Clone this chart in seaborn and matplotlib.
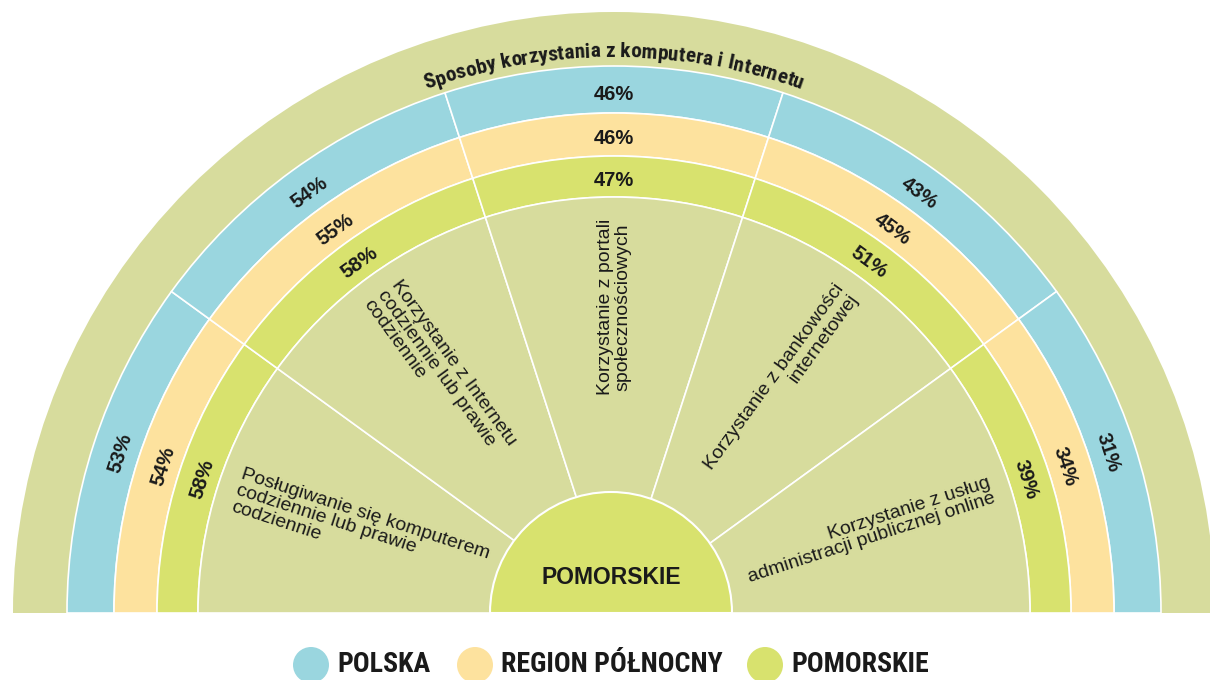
import numpy as np
import matplotlib
matplotlib.use("Agg")
import matplotlib.pyplot as plt
from matplotlib.patches import Wedge, Circle
from matplotlib import font_manager
import seaborn as sns

# Data
categories = [
    "Posługiwanie się komputerem\ncodziennie lub prawie\ncodziennie",
    "Korzystanie z Internetu\ncodziennie lub prawie\ncodziennie",
    "Korzystanie z portali\nspołecznościowych",
    "Korzystanie z bankowości\ninternetowej",
    "Korzystanie z usług\nadministracji publicznej online",
]
series_names = ["POLSKA", "REGION PÓŁNOCNY", "POMORSKIE"]
polska = [53, 54, 46, 43, 31]
region = [54, 55, 46, 45, 34]
pomorskie = [58, 58, 47, 51, 39]
title = "Sposoby korzystania z komputera i Internetu"
center_label = "POMORSKIE"

sns.set_theme(style="white")
palette = sns.color_palette(["#9AD6DF", "#FDE29E", "#D8E26E"])
olive = "#D7DC9D"
ink = "#1a1a1a"
plt.rcParams["font.family"] = ["Liberation Sans", "DejaVu Sans"]


def find_narrow_bold():
    # look for a condensed bold face (Arial Narrow look-alike)
    prefs = ["LiberationSansNarrow", "RobotoCondensed", "Roboto", "OpenSans",
             "NotoSans", "DejaVuSansCondensed", "DejaVu"]
    hits = []
    for f in font_manager.fontManager.ttflist:
        fn = f.fname.replace("-", "").replace("_", "").replace(" ", "")
        is_narrow = ("Narrow" in fn or "Condensed" in fn or "Condensed" in f.name
                     or "Narrow" in f.name or f.stretch in ("condensed", "semi-condensed",
                                                            "extra-condensed"))
        w = f.weight if isinstance(f.weight, int) else 700 if "bold" in str(f.weight) else 400
        if is_narrow and 600 <= w <= 800 and "Italic" not in fn and f.style == "normal":
            rank = next((k for k, p in enumerate(prefs) if p in fn), len(prefs))
            hits.append((rank, f.fname))
    if hits:
        hits.sort()
        return font_manager.FontProperties(fname=hits[0][1]), True
    return font_manager.FontProperties(family="Liberation Sans", weight="bold"), False


narrow_fp, have_narrow = find_narrow_bold()

fig = plt.figure(figsize=(12.1, 6.8), dpi=100)
ax = fig.add_axes([0, 0, 1, 1])
ax.set_xlim(0, 1210)
ax.set_ylim(0, 680)
ax.axis("off")
renderer = fig.canvas.get_renderer()


def text_w(s, fp):
    w, h, d = renderer.get_text_width_height_descent(s, fp, ismath=False)
    return w


def fitted(fp, s, target):
    p = fp.copy()
    p.set_size(14)
    p.set_size(14 * target / (text_w(s, p)))
    return p


# geometry (pixel units)
cx, cy = 614, 67
r_outer = 601
ring_edges = [547, 500, 457, 416]
label_r = [519, 474, 433]
r_core = 121

n = len(categories)
step = 180 / n

# outer ring holding the title
ax.add_patch(Wedge((cx, cy), r_outer, 0, 180, fc=olive, ec="none"))

series = [polska, region, pomorskie]
for j, vals in enumerate(series):
    for i, v in enumerate(vals):
        t1, t2 = 180 - (i + 1) * step, 180 - i * step
        ax.add_patch(Wedge((cx, cy), ring_edges[j], t1, t2,
                           width=ring_edges[j] - ring_edges[j + 1],
                           fc=palette[j], ec="white", lw=1.2))
        mid = np.radians(180 - (i + 0.5) * step)
        ax.text(cx + label_r[j] * np.cos(mid), cy + label_r[j] * np.sin(mid),
                f"{v}%", rotation=np.degrees(mid) - 90, rotation_mode="anchor",
                ha="center", va="center", fontsize=14.5, fontweight="bold",
                color=ink)

# inner sectors with category names
for i, cat in enumerate(categories):
    t1, t2 = 180 - (i + 1) * step, 180 - i * step
    ax.add_patch(Wedge((cx, cy), ring_edges[-1], t1, t2, fc=olive,
                       ec="white", lw=1.2))
    mid_deg = 180 - (i + 0.5) * step
    mid = np.radians(mid_deg)
    if mid_deg > 91:
        r, rot, ha = 397, mid_deg - 180, "left"
    elif mid_deg < 89:
        r, rot, ha = 398, mid_deg, "right"
    else:
        r, rot, ha = 306, mid_deg, "center"
    ax.text(cx + r * np.cos(mid), cy + r * np.sin(mid), cat, rotation=rot,
            rotation_mode="anchor", ha=ha, va="center", multialignment=ha,
            fontsize=14, color=ink, linespacing=1.0)

# centre disc
ax.add_patch(Wedge((cx - 3, cy), r_core, 0, 180, fc=palette[2], ec="white", lw=1.5))
ax.text(cx - 3, cy + 36, center_label, ha="center", va="center",
        fontsize=16.5, fontweight="bold", color=ink)

# title along the arc
title_fp = fitted(narrow_fp, title, 384)
bar_w = text_w("|", title_fp)
total = text_w(title + "|", title_fp) - bar_w
r_title = 556
for i, ch in enumerate(title):
    if ch == " ":
        continue
    c = (text_w(title[:i + 1] + "|", title_fp) + text_w(title[:i] + "|", title_fp)) / 2 - bar_w
    theta = np.pi / 2 + (total / 2 - c) / r_title
    ax.text(cx + r_title * np.cos(theta), cy + r_title * np.sin(theta), ch,
            rotation=np.degrees(theta) - 90, rotation_mode="anchor",
            ha="center", va="baseline", fontproperties=title_fp, color=ink)

# legend
leg_fp = fitted(narrow_fp, "REGION PÓŁNOCNY", 222)
leg_x = [311, 475, 765]
for x, name, col in zip(leg_x, series_names, palette):
    ax.add_patch(Circle((x, 15), 18, fc=col, ec="none"))
    ax.text(x + 26, 8, name, ha="left", va="baseline", fontproperties=leg_fp,
            color=ink)

fig.savefig("out.png", dpi=100)
